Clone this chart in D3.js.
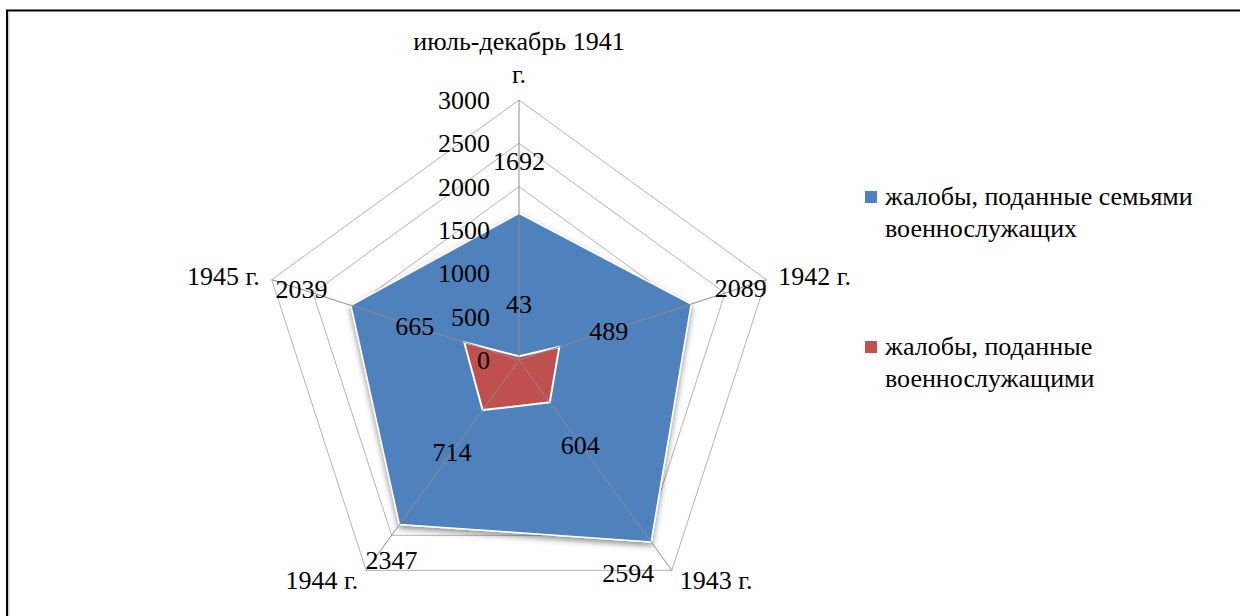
<!DOCTYPE html>
<html>
<head>
<meta charset="utf-8">
<script src="https://cdn.jsdelivr.net/npm/d3@7"></script>
<style>
  html, body { margin: 0; padding: 0; background: #fff; }
  svg { display: block; }
</style>
</head>
<body>
<svg id="chart" width="1240" height="616"></svg>
<script>
(function() {

  var categories = [["июль-декабрь 1941", "г."], ["1942 г."], ["1943 г."], ["1944 г."], ["1945 г."]];
  var families = [1692, 2089, 2594, 2347, 2039];
  var soldiers = [43, 489, 604, 714, 665];
  var ticks = [0, 500, 1000, 1500, 2000, 2500, 3000];
  var seriesNames = [
    ["жалобы, поданные семьями", "военнослужащих"],
    ["жалобы, поданные", "военнослужащими"]
  ];

  var font = "'Times New Roman', Times, 'Liberation Serif', 'Noto Serif', 'DejaVu Serif', serif";
  var fontSize = "26px";
  var cx = 519, cy = 360;
  var r = d3.scaleLinear().domain([0, 3000]).range([0, 260]);
  var angle = function(i) { return i * 2 * Math.PI / categories.length; };
  var pt = function(v, i) {
    return [cx + r(v) * Math.sin(angle(i)), cy - r(v) * Math.cos(angle(i))];
  };

  var svg = d3.select("#chart");

  var defs = svg.append("defs");
  var f = defs.append("filter").attr("id", "shadow")
      .attr("x", "-20%").attr("y", "-20%").attr("width", "140%").attr("height", "140%");
  f.append("feDropShadow")
      .attr("dx", 0).attr("dy", 3).attr("stdDeviation", 3)
      .attr("flood-color", "#000").attr("flood-opacity", 0.45);

  // frame
  svg.append("line").attr("x1", 8.5).attr("x2", 8.5).attr("y1", 12).attr("y2", 616)
      .style("stroke", "#d0d0d0").style("stroke-width", 2);
  svg.append("path").attr("d", "M7,616 L7,10.5 L1240,10.5")
      .style("fill", "none").style("stroke", "#000").style("stroke-width", 2);

  // grid rings
  svg.append("g").selectAll("polygon")
    .data(ticks.slice(1))
    .enter().append("polygon")
    .attr("points", function(t) {
      return categories.map(function(c, i) { return pt(t, i).join(","); }).join(" ");
    })
    .style("fill", "none")
    .style("stroke", "#b3b3b3")
    .style("stroke-width", 1);

  var line = d3.line().curve(d3.curveLinearClosed);

  svg.append("path")
    .attr("d", line(families.map(pt)))
    .style("fill", "#4F81BD")
    .style("stroke", "#fff")
    .style("stroke-width", 1.5)
    .attr("filter", "url(#shadow)");

  svg.append("path")
    .attr("d", line(soldiers.map(pt)))
    .style("fill", "#C0504D")
    .style("stroke", "#fff")
    .style("stroke-width", 2);

  // spokes
  svg.append("g").selectAll("line")
    .data(categories)
    .enter().append("line")
    .attr("x1", cx).attr("y1", cy)
    .attr("x2", function(d, i) { return pt(3000, i)[0]; })
    .attr("y2", function(d, i) { return pt(3000, i)[1]; })
    .style("stroke", "#8c8c8c")
    .style("stroke-width", 1);

  // tick labels
  svg.append("g").selectAll("text")
    .data(ticks)
    .enter().append("text")
    .attr("x", cx - 29)
    .attr("y", function(t) { return cy - r(t); })
    .attr("dy", "0.35em")
    .attr("text-anchor", "end")
    .style("font-family", font)
    .style("font-size", fontSize)
    .style("fill", "#000")
    .text(function(t) { return t; });

  // category labels
  var catPos = [
    {anchor: "middle", dx: 0, dy: -50},
    {anchor: "start", dx: 12, dy: 5},
    {anchor: "start", dx: 8, dy: 19},
    {anchor: "end", dx: -8, dy: 19},
    {anchor: "end", dx: -12, dy: 5}
  ];
  categories.forEach(function(c, i) {
    var p = pt(3000, i);
    var t = svg.append("text")
      .attr("text-anchor", catPos[i].anchor)
      .style("font-family", font)
      .style("font-size", fontSize)
      .style("fill", "#000");
    c.forEach(function(s, k) {
      t.append("tspan")
        .attr("x", p[0] + catPos[i].dx)
        .attr("y", p[1] + catPos[i].dy + k * 33)
        .text(s);
    });
  });

  // data labels
  var labelOffset = 52;
  var blueShift = [null, null, [-23, 31], [-8, 35], null];
  function dataLabels(values, shifts) {
    svg.append("g").selectAll("text")
      .data(values)
      .enter().append("text")
      .attr("x", function(v, i) {
        var p = pt(v, i);
        if (shifts && shifts[i]) return p[0] + shifts[i][0];
        return p[0] + labelOffset * Math.sin(angle(i));
      })
      .attr("y", function(v, i) {
        var p = pt(v, i);
        if (shifts && shifts[i]) return p[1] + shifts[i][1];
        return p[1] - labelOffset * Math.cos(angle(i));
      })
      .attr("dy", "0.35em")
      .attr("text-anchor", "middle")
      .style("font-family", font)
      .style("font-size", fontSize)
      .style("fill", "#000")
      .text(function(v) { return v; });
  }
  dataLabels(families, blueShift);
  dataLabels(soldiers, null);

  // legend
  var colors = ["#4F81BD", "#C0504D"];
  var legendY = [205, 355];
  seriesNames.forEach(function(name, j) {
    svg.append("rect")
      .attr("x", 865).attr("y", legendY[j] - 14)
      .attr("width", 12).attr("height", 12)
      .style("fill", colors[j]);
    var t = svg.append("text")
      .style("font-family", font)
      .style("font-size", fontSize)
      .style("fill", "#000");
    name.forEach(function(s, k) {
      t.append("tspan").attr("x", 885).attr("y", legendY[j] + k * 32).text(s);
    });
  });

})();
</script>
</body>
</html>
